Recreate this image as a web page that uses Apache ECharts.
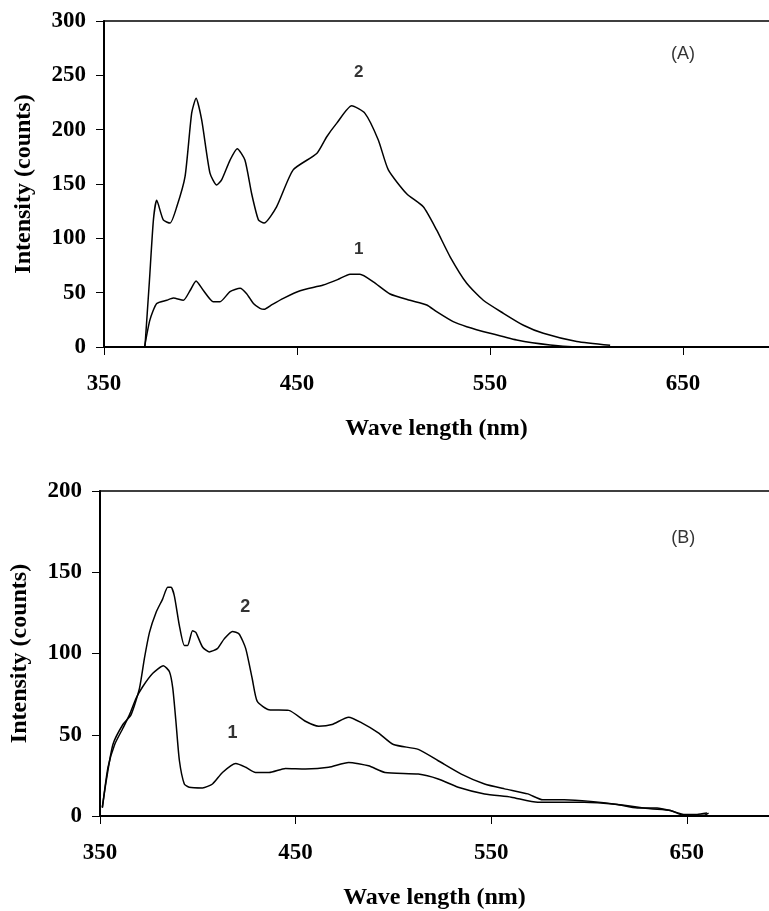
<!DOCTYPE html>
<html>
<head>
<meta charset="utf-8">
<script src="https://cdn.jsdelivr.net/npm/echarts@6/dist/echarts.min.js"></script>
<style>
  html, body { margin: 0; padding: 0; background: #fff; }
  #chart { width: 769px; height: 911px; }
</style>
</head>
<body>
<div id="chart"></div>
<script>
// panel A: [wavelength nm, intensity]
const a1 = [
  [371, 0], [373.8, 25], [377.3, 40], [382.5, 43], [385.9, 45], [391.1, 43], [394.6, 52],
  [397.7, 60.7], [401.5, 52], [406.6, 41.7], [410.1, 41.7], [415.3, 51], [420.5, 54],
  [423.9, 49], [427.4, 40], [430.8, 35.6], [432.9, 34.7], [437, 39], [442.9, 44.8],
  [451.6, 51.8], [463.6, 57], [471, 62], [477.5, 67], [482.6, 67], [489.5, 60],
  [498.2, 48.8], [508.5, 43], [517.2, 38.7], [522.3, 32.5], [530.9, 23.3], [537.9, 18.7],
  [550, 12.6], [563.8, 6.4], [581.1, 1.8], [598.3, -0.6], [613.9, -2]
];
const a2 = [
  [371.2, 0], [373.5, 60], [375.6, 117], [377.3, 135], [380.7, 117], [384.2, 114],
  [387.7, 129], [392, 157], [395.4, 215], [397.7, 229], [400.6, 209], [404.9, 160],
  [408.4, 149], [411, 154], [415.3, 172], [419, 182.5], [423, 172], [426.5, 141],
  [430, 117], [432.9, 114], [439.4, 129], [448, 163], [460.2, 178], [465.4, 193.5],
  [470.6, 206], [478.3, 222], [485.2, 215], [492.1, 190.5], [497.3, 163], [506.8, 141],
  [515.4, 129], [522.3, 107.7], [529.3, 83], [537.9, 58.6], [546.5, 43], [556.9, 31],
  [567.3, 20], [577.6, 12.6], [594.9, 5], [612.2, 1.5]
];
// panel B
const b1 = [
  [351.2, 5], [354.1, 30], [357.5, 44], [361.7, 54], [365.1, 62.4], [368.5, 72.6],
  [371.9, 79.7], [377, 87.8], [382.4, 92.5], [385.5, 88.8], [387.2, 78.7], [388.8, 58.3],
  [390.6, 34], [393.1, 19.7], [395.6, 17.7], [402.4, 17.3], [407.5, 19.7], [412.6, 26.8],
  [419.4, 32.3], [424.5, 30], [429.5, 26.8], [436.4, 26.8], [444.8, 29.3], [455, 29],
  [466.9, 30], [477.1, 33], [487.3, 30.9], [495.7, 26.8], [512.7, 25.8], [522.9, 22.8],
  [533.1, 17.7], [546.6, 13.6], [560.2, 11.6], [573.8, 8.5], [597.5, 8.5], [614.5, 7.1],
  [631.4, 4.5], [641.6, 3.4], [648.4, 0.4], [658.6, 0.4], [661.1, 1.8]
];
const b2 = [
  [351.2, 5.5], [353.2, 21.8], [356.6, 44], [361.7, 56.3], [365.9, 62.4], [370.2, 78.7],
  [372.7, 97], [375.3, 113], [378.7, 125.4], [382, 133.5], [384.6, 140.7], [386.3, 140.7],
  [388, 135.5], [390.6, 117], [393.1, 105], [394.8, 105], [397.3, 114], [399, 113],
  [402.4, 104], [405.8, 101], [410, 103], [413.5, 109], [417.7, 113.6], [421.1, 112],
  [424.5, 103], [427.9, 84], [430.4, 70.5], [436.4, 65.4], [446.5, 65], [455, 58.3],
  [461.8, 55.3], [468.6, 56.3], [477.1, 60.8], [483.8, 57.3], [492.3, 51.2], [500, 44],
  [512.7, 41], [522.9, 34], [534.7, 25.8], [546.6, 19.7], [556.8, 16.7], [568.7, 13.6],
  [576.3, 10], [587.3, 10], [600.9, 9], [614.5, 7.1], [624.7, 5], [634.8, 5],
  [641.6, 3.4], [648.4, 1], [655.2, 1], [660.3, 1.8]
];

// annotations [x, y, text]
const notesA = [[482, 253, '2'], [482, 90, '1']];
const notesB = [[424.3, 128.7, '2'], [417.7, 51.2, '1']];
const panelTags = [[650, 270, '(A)'], [648.2, 171, '(B)']];

// the plot runs off the right edge of the figure
const xMaxA = 694.5;
const xMaxB = 692;

const serif = 'Liberation Serif';
const sans = 'Liberation Sans';

function xAxisFor(gridIndex, max) {
  return {
    gridIndex: gridIndex,
    type: 'value',
    min: 350,
    max: max,
    interval: 100,
    name: 'Wave length (nm)',
    nameLocation: 'middle',
    nameGap: 70,
    nameTextStyle: { fontFamily: serif, fontWeight: 'bold', fontSize: 24, color: '#000' },
    axisLine: { lineStyle: { color: '#000', width: 2 } },
    axisTick: { show: true, inside: false, length: 8, lineStyle: { color: '#000', width: 1 } },
    axisLabel: { showMaxLabel: false, margin: 26, fontFamily: serif, fontWeight: 'bold', fontSize: 23, color: '#000' },
    splitLine: { show: false }
  };
}

// top frame line only
function topEdge(gridIndex, max) {
  return {
    gridIndex: gridIndex,
    type: 'value',
    position: 'top',
    min: 350,
    max: max,
    axisLine: { show: true, lineStyle: { color: '#000', width: 1.5 } },
    axisTick: { show: false },
    axisLabel: { show: false },
    splitLine: { show: false }
  };
}

function yAxisFor(gridIndex, max) {
  return {
    gridIndex: gridIndex,
    type: 'value',
    min: 0,
    max: max,
    interval: 50,
    name: 'Intensity (counts)',
    nameLocation: 'middle',
    nameGap: 68,
    nameTextStyle: { fontFamily: serif, fontWeight: 'bold', fontSize: 24, color: '#000' },
    axisLine: { show: true, lineStyle: { color: '#000', width: 2 } },
    axisTick: { show: true, inside: false, length: 8, lineStyle: { color: '#000', width: 1 } },
    axisLabel: { margin: 18, fontFamily: serif, fontWeight: 'bold', fontSize: 23, color: '#000' },
    splitLine: { show: false }
  };
}

function curve(data, idx) {
  return {
    type: 'line',
    xAxisIndex: idx,
    yAxisIndex: idx,
    data: data,
    showSymbol: false,
    smooth: 0.2,
    lineStyle: { color: '#000', width: 1.5 },
    silent: true,
    z: 3
  };
}

function notes(list, idx, weight, size) {
  return {
    type: 'scatter',
    xAxisIndex: idx,
    yAxisIndex: idx,
    symbolSize: 1,
    itemStyle: { color: 'rgba(0,0,0,0)' },
    silent: true,
    data: list.map(n => ({ value: [n[0], n[1]], name: n[2] })),
    label: {
      show: true,
      position: 'inside',
      formatter: p => p.name,
      fontFamily: sans,
      fontWeight: weight,
      fontSize: size,
      color: '#000',
      textBorderWidth: 0
    }
  };
}

const chart = echarts.init(document.getElementById('chart'));
const option = {
  backgroundColor: '#fff',
  animation: false,
  grid: [
    { left: 104, top: 21, right: 0, height: 326 },
    { left: 97, top: 491, right: 0, height: 328 }
  ],
  xAxis: [xAxisFor(0, xMaxA), xAxisFor(1, xMaxB), topEdge(0, xMaxA), topEdge(1, xMaxB)],
  yAxis: [yAxisFor(0, 300), yAxisFor(1, 200)],
  series: [
    curve(a1, 0),
    curve(a2, 0),
    curve(b1, 1),
    curve(b2, 1),
    notes(notesA, 0, 'bold', 17),
    notes(notesB, 1, 'bold', 18),
    notes([panelTags[0]], 0, 'normal', 18),
    notes([panelTags[1]], 1, 'normal', 18)
  ]
};
chart.setOption(option);
</script>
</body>
</html>
